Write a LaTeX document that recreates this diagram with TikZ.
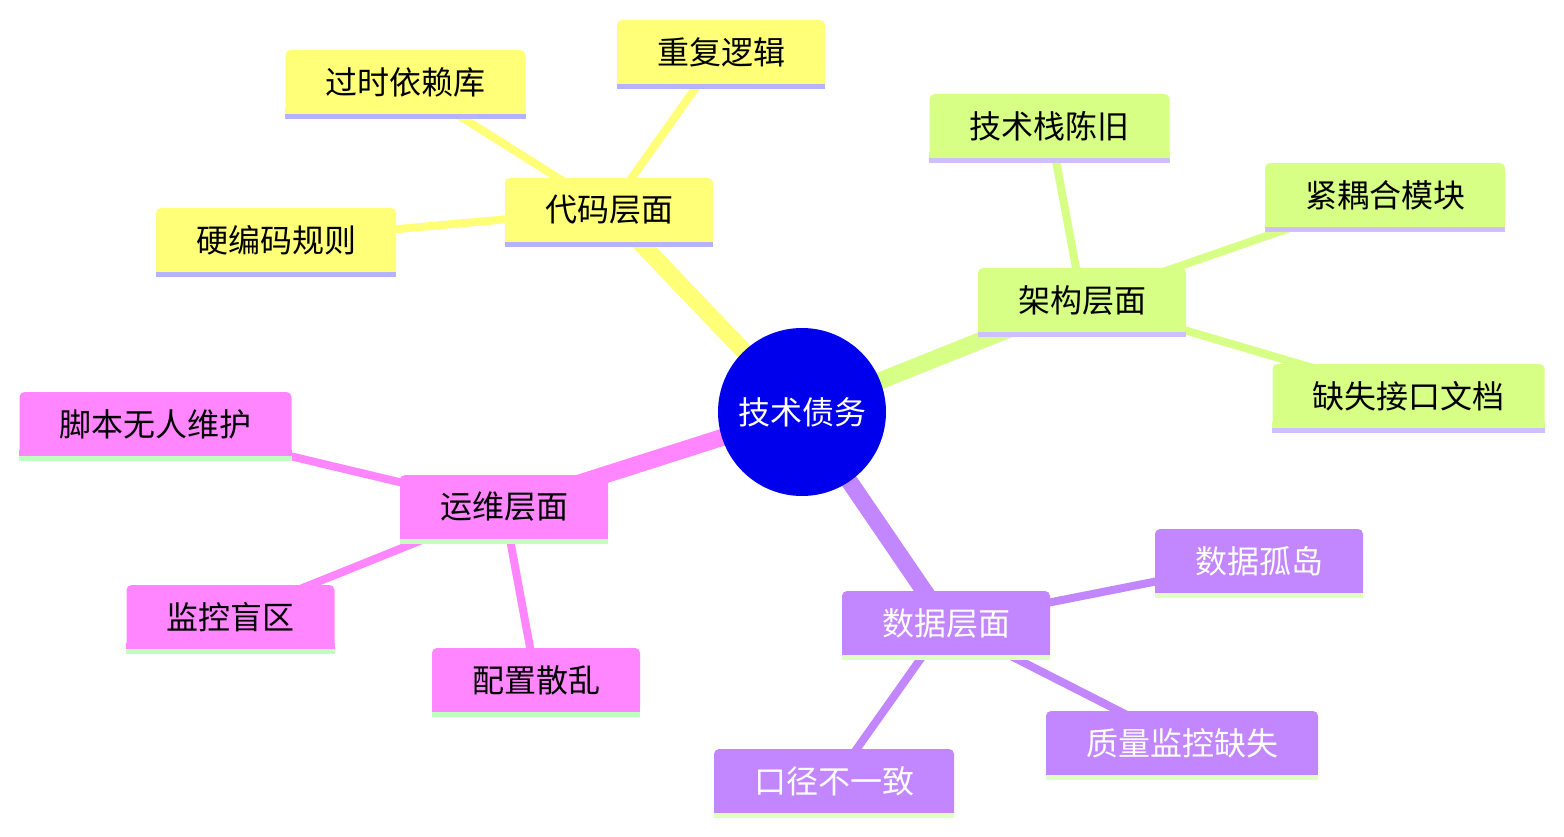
\documentclass[tikz,border=0pt]{standalone}
\usepackage{fontspec}
\setmainfont{Noto Sans CJK SC}
\definecolor{rootc}{HTML}{0000EC}
\definecolor{codef}{HTML}{FFFF78}\definecolor{codel}{HTML}{B3B3FF}\colorlet{codet}{black}
\definecolor{archf}{HTML}{D7FF86}\definecolor{archl}{HTML}{D0BFFF}\colorlet{archt}{black}
\definecolor{dataf}{HTML}{C286FF}\definecolor{datal}{HTML}{E1FFC3}\colorlet{datat}{white}
\definecolor{opsf}{HTML}{FF86FF}\definecolor{opsl}{HTML}{C0FFC0}\colorlet{opst}{black}
\pgfdeclarelayer{bg}\pgfsetlayers{bg,main}
\tikzset{
  box/.style={rounded corners=5pt, minimum height=64pt, inner sep=0pt, font=\fontsize{32pt}{38pt}\selectfont},
  rootedge/.style={line width=17pt},
  leafedge/.style={line width=8pt},
}
\newcommand\mmnode[6]{%
  \node[box, fill=#5f, text=#5t, minimum width=#4pt] (#1) at (#2,#3) {#6};
  \fill[#5f] (#1.south west) rectangle ([yshift=6pt]#1.south east);
  \draw[#5l, line width=5pt] ([yshift=-2.5pt]#1.south west) -- ([yshift=-2.5pt]#1.south east);
}
\begin{document}
\begin{tikzpicture}[x=1pt,y=-1pt]
\useasboundingbox (0,0) rectangle (1564,837);
\node[circle, fill=rootc, minimum size=168pt, inner sep=0pt, text=white, font=\fontsize{32pt}{38pt}\selectfont] (root) at (802,412) {技术债务};
% code
\mmnode{code}{609}{210}{208}{code}{代码层面}
\mmnode{c1}{405.5}{82}{240}{code}{过时依赖库}
\mmnode{c2}{721}{52}{208}{code}{重复逻辑}
\mmnode{c3}{276}{240}{240}{code}{硬编码规则}
% arch
\mmnode{arch}{1082}{300}{208}{arch}{架构层面}
\mmnode{a1}{1049.5}{126}{240}{arch}{技术栈陈旧}
\mmnode{a2}{1385}{195}{240}{arch}{紧耦合模块}
\mmnode{a3}{1408.5}{396}{272}{arch}{缺失接口文档}
% data
\mmnode{data}{946}{623}{208}{data}{数据层面}
\mmnode{d1}{1259}{561}{208}{data}{数据孤岛}
\mmnode{d2}{1182}{743}{272}{data}{质量监控缺失}
\mmnode{d3}{834}{781}{240}{data}{口径不一致}
% ops
\mmnode{ops}{504}{507}{208}{ops}{运维层面}
\mmnode{o1}{155.5}{424}{272}{ops}{脚本无人维护}
\mmnode{o2}{230.5}{617}{208}{ops}{监控盲区}
\mmnode{o3}{536}{680}{208}{ops}{配置散乱}
\begin{pgfonlayer}{bg}
\draw[codef, rootedge] (root.center) -- (code.center);
\draw[archf, rootedge] (root.center) -- (arch.center);
\draw[dataf, rootedge] (root.center) -- (data.center);
\draw[opsf, rootedge] (root.center) -- (ops.center);
\foreach \n in {c1,c2,c3} \draw[codef, leafedge] (code.center) -- (\n.center);
\foreach \n in {a1,a2,a3} \draw[archf, leafedge] (arch.center) -- (\n.center);
\foreach \n in {d1,d2,d3} \draw[dataf, leafedge] (data.center) -- (\n.center);
\foreach \n in {o1,o2,o3} \draw[opsf, leafedge] (ops.center) -- (\n.center);
\end{pgfonlayer}
\end{tikzpicture}
\end{document}
